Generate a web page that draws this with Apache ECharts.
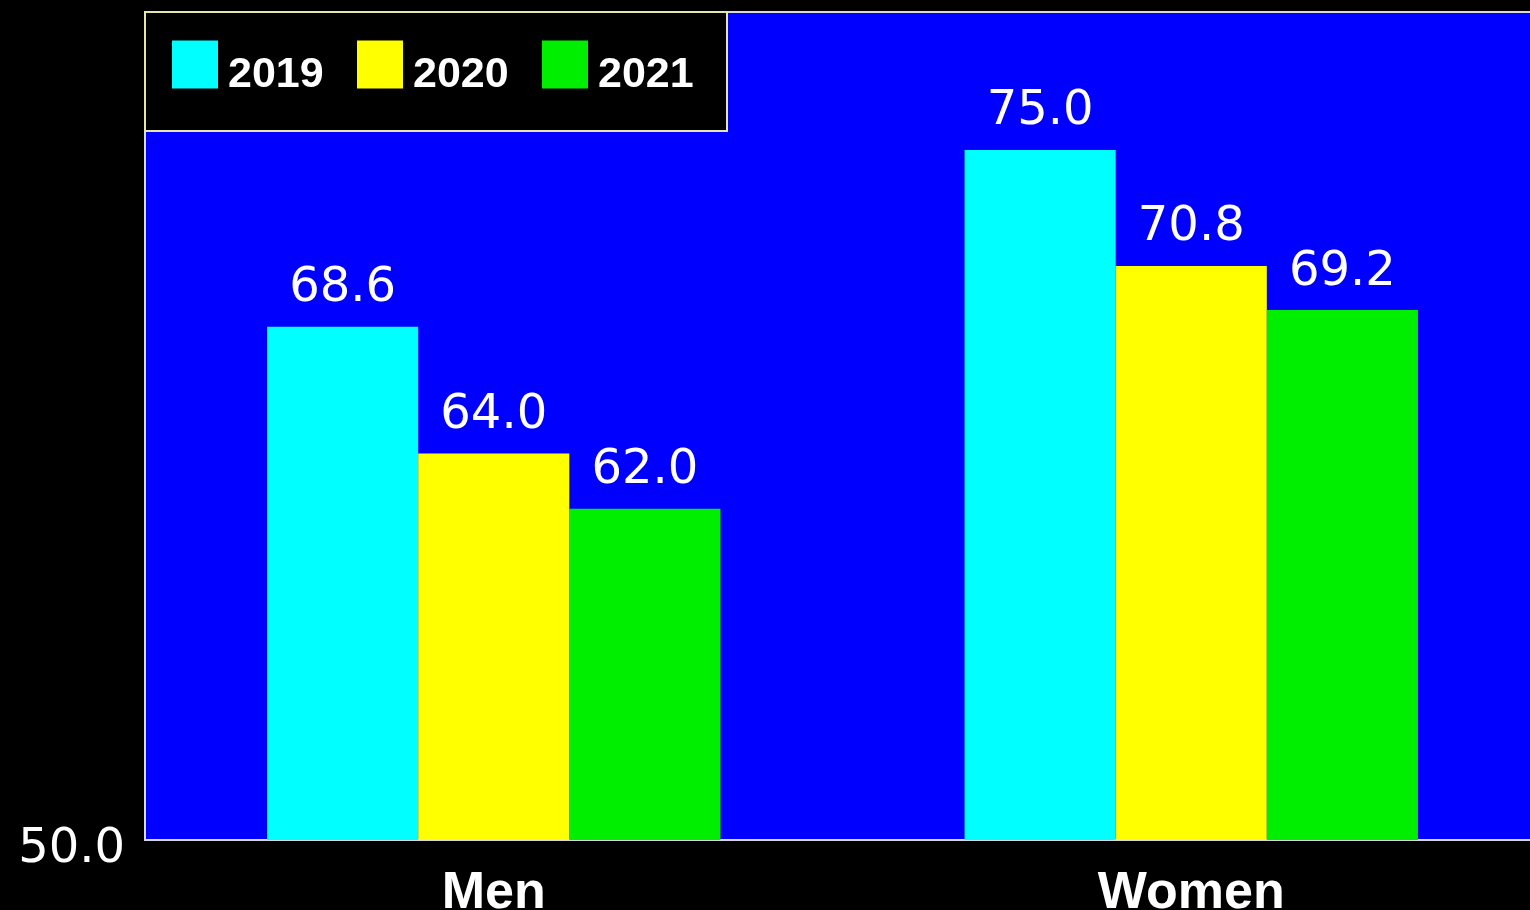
<!DOCTYPE html>
<html>
<head>
<meta charset="utf-8">
<script src="https://cdn.jsdelivr.net/npm/echarts@6/dist/echarts.min.js"></script>
<style>
html,body{margin:0;padding:0;background:#000;}
#chart{width:1530px;height:910px;}
</style>
</head>
<body>
<div id="chart"></div>
<script>
const categories = ['Men', 'Women'];
const seriesNames = ['2019', '2020', '2021'];
const values2019 = [68.6, 75.0];
const values2020 = [64.0, 70.8];
const values2021 = [62.0, 69.2];
const colors = ['#00ffff', '#ffff00', '#00ee00'];

const chart = echarts.init(document.getElementById('chart'));
const allValues = [values2019, values2020, values2021];

chart.setOption({
  backgroundColor: '#000000',
  animation: false,
  grid: {
    left: 145, top: 12, right: -10, bottom: 70,
    outerBoundsMode: 'none',
    containLabel: false,
    show: true,
    backgroundColor: '#0000ff',
    borderColor: '#d8d8e0',
    borderWidth: 2
  },
  legend: {
    left: 145, top: 12,
    data: seriesNames,
    orient: 'horizontal',
    backgroundColor: '#000000',
    borderColor: '#e6e6a8',
    borderWidth: 2,
    padding: [20, 31, 34, 27],
    itemWidth: 46,
    itemHeight: 48,
    itemGap: 31,
    icon: 'rect',
    formatter: '{t|{name}}',
    textStyle: {
      color: '#ffffff',
      fontFamily: 'Liberation Sans',
      fontWeight: 'bold',
      fontSize: 43,
      rich: {
        t: {
          color: '#ffffff',
          fontFamily: 'Liberation Sans',
          fontWeight: 'bold',
          fontSize: 43,
          width: 98,
          lineHeight: 26,
          padding: [22, 0, 0, 5]
        }
      }
    }
  },
  xAxis: {
    type: 'category',
    data: categories,
    axisLine: { show: false },
    axisTick: { show: false },
    axisLabel: {
      color: '#ffffff',
      fontFamily: 'Liberation Sans',
      fontWeight: 'bold',
      fontSize: 52,
      margin: 28
    }
  },
  yAxis: {
    type: 'value',
    min: 50, max: 80, interval: 30,
    axisLine: { show: false },
    axisTick: { show: false },
    splitLine: { show: false },
    axisLabel: {
      margin: 20,
      showMaxLabel: false,
      formatter: v => '{t|' + v.toFixed(1) + '}',
      rich: {
        t: {
          color: '#ffffff',
          fontFamily: 'DejaVu Sans',
          fontSize: 48,
          lineHeight: 30,
          padding: [20, 0, 0, 0]
        }
      }
    }
  },
  series: seriesNames.map((name, i) => ({
    name: name,
    type: 'bar',
    data: allValues[i],
    barGap: '0%',
    barCategoryGap: '35%',
    itemStyle: { color: colors[i] },
    label: {
      show: true,
      position: 'top',
      distance: 14,
      color: '#ffffff',
      fontFamily: 'DejaVu Sans',
      fontSize: 48,
      formatter: p => p.value.toFixed(1)
    }
  }))
});
</script>
</body>
</html>
